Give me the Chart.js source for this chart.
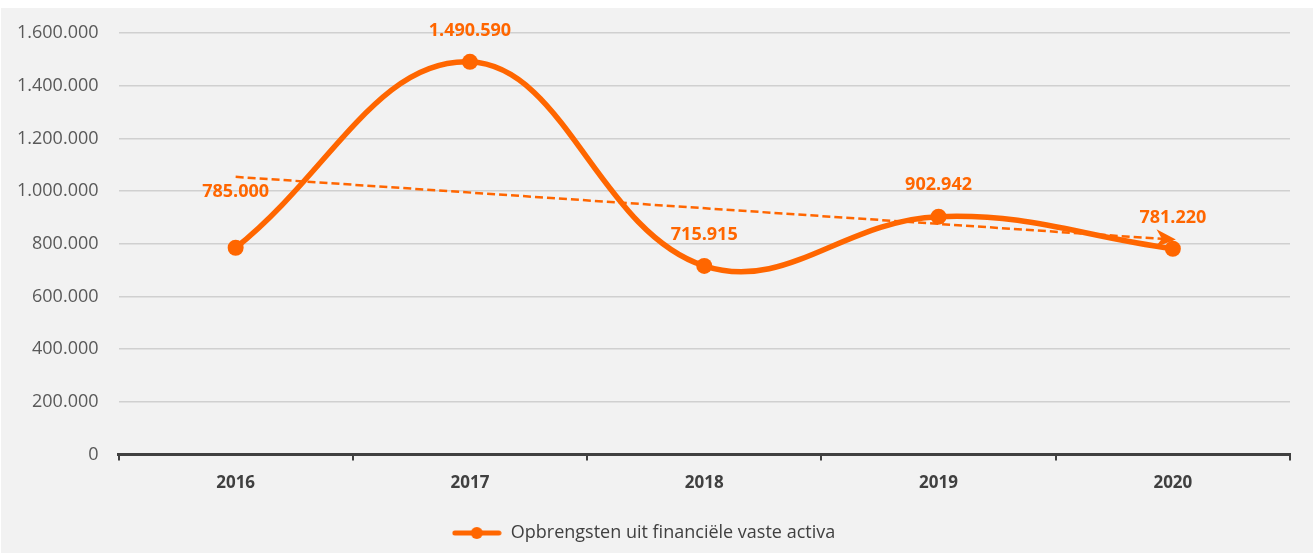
<!DOCTYPE html>
<html>
<head>
<meta charset="utf-8">
<script src="https://cdn.jsdelivr.net/npm/chart.js@4/dist/chart.umd.min.js"></script>
<style>
  html, body { margin: 0; padding: 0; background: #ffffff; }
  #wrap { position: absolute; left: 1px; top: 8px; width: 1312px; height: 545px; background: #f2f2f2; }
</style>
</head>
<body>
<div id="wrap"><canvas id="chart"></canvas></div>
<script>
const years = ['2016', '2017', '2018', '2019', '2020'];
const opbrengsten = [785000, 1490590, 715915, 902942, 781220];
// trendline end points
const trend = [1054000, null, null, null, 816000];
const yTicks = [0, 200000, 400000, 600000, 800000, 1000000, 1200000, 1400000, 1600000];

const ORANGE = '#ff6600';
const fmt = v => String(v).replace(/\B(?=(\d{3})+(?!\d))/g, '.');

// legend symbol: line with a dot in the middle
const legendIcon = document.createElement('canvas');
legendIcon.width = 50; legendIcon.height = 14;
(function () {
  const c = legendIcon.getContext('2d');
  c.strokeStyle = ORANGE; c.lineWidth = 5; c.lineCap = 'round';
  c.beginPath(); c.moveTo(3, 7); c.lineTo(47, 7); c.stroke();
  c.fillStyle = ORANGE;
  c.beginPath(); c.arc(25, 7, 6, 0, Math.PI * 2); c.fill();
})();

const valueLabels = {
  id: 'valueLabels',
  afterDatasetsDraw(chart, args, opts) {
    const ctx = chart.ctx;
    const meta = chart.getDatasetMeta(0);
    ctx.save();
    ctx.font = 'bold 18px "Open Sans"';
    ctx.fillStyle = ORANGE;
    ctx.textAlign = 'center';
    ctx.textBaseline = 'middle';
    meta.data.forEach((pt, i) => {
      ctx.fillText(fmt(opbrengsten[i]), pt.x, pt.y - opts.lift[i]);
    });
    ctx.restore();
  }
};

const trendArrow = {
  id: 'trendArrow',
  afterDatasetsDraw(chart) {
    const pts = chart.getDatasetMeta(1).data;
    const a = pts[0], b = pts[pts.length - 1];
    const ang = Math.atan2(b.y - a.y, b.x - a.x);
    const ctx = chart.ctx;
    ctx.save();
    ctx.translate(b.x + 3, b.y);
    ctx.rotate(ang);
    ctx.fillStyle = ORANGE;
    ctx.beginPath();
    ctx.moveTo(0, 0);
    ctx.lineTo(-20, -9);
    ctx.lineTo(-14, 0);
    ctx.lineTo(-20, 9);
    ctx.closePath();
    ctx.fill();
    ctx.restore();
  }
};

new Chart(document.getElementById('chart'), {
  type: 'line',
  data: {
    labels: years,
    datasets: [{
      label: 'Opbrengsten uit financiële vaste activa',
      data: opbrengsten,
      borderColor: ORANGE,
      backgroundColor: ORANGE,
      borderWidth: 5.5,
      tension: 0.4,
      pointRadius: 8,
      pointHoverRadius: 8,
      pointBorderWidth: 0,
      clip: false,
      order: 1
    }, {
      label: 'trend',
      data: trend,
      spanGaps: true,
      borderColor: ORANGE,
      borderWidth: 2.5,
      borderDash: [8, 4],
      pointRadius: 0,
      tension: 0,
      order: 2
    }]
  },
  plugins: [valueLabels, trendArrow],
  options: {
    responsive: true,
    maintainAspectRatio: false,
    animation: false,
    layout: { autoPadding: false, padding: { left: -4, right: 23, top: 25, bottom: 1 } },
    scales: {
      x: {
        offset: true,
        grid: { offset: true, drawOnChartArea: false, drawTicks: true, tickLength: 6, color: '#404040', lineWidth: 2 },
        border: { color: '#404040', width: 3 },
        ticks: { color: '#404040', font: { family: '"Open Sans"', size: 17, weight: 'bold' }, padding: 12 }
      },
      y: {
        min: 0, max: 1600000,
        afterBuildTicks: axis => { axis.ticks = yTicks.map(v => ({ value: v })); },
        // the tick padding would otherwise be added above the plot too
        afterFit: axis => { axis.paddingTop = 0; axis.paddingBottom = 0; },
        grid: { color: '#d0d0d0', lineWidth: 1.5, drawTicks: false },
        border: { display: false },
        ticks: {
          color: '#595959', font: { family: '"Open Sans"', size: 18 }, padding: 20,
          callback: v => fmt(v)
        }
      }
    },
    plugins: {
      valueLabels: { lift: [56, 31, 31, 32, 31] },
      tooltip: { enabled: false },
      legend: {
        position: 'bottom',
        labels: {
          usePointStyle: true,
          pointStyleWidth: 50,
          color: '#404040',
          font: { family: '"Open Sans"', size: 18 },
          padding: 19,
          filter: item => item.datasetIndex === 0,
          generateLabels: chart => Chart.defaults.plugins.legend.labels.generateLabels(chart)
            .map(l => Object.assign(l, { pointStyle: legendIcon }))
        }
      }
    }
  }
});
</script>
</body>
</html>
